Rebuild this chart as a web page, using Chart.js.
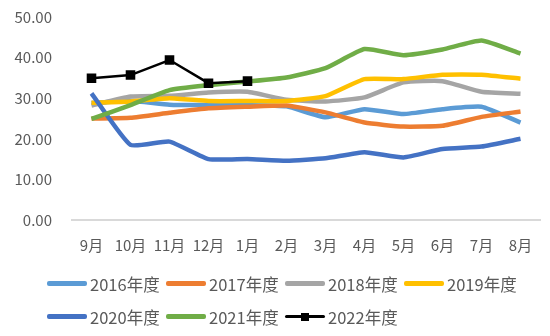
<!DOCTYPE html>
<html>
<head>
<meta charset="utf-8">
<script src="https://cdn.jsdelivr.net/npm/chart.js@4/dist/chart.umd.min.js"></script>
<style>
  html, body { margin: 0; padding: 0; background: #fff; }
  #wrap { position: relative; width: 550px; height: 336px; }
  #legend {
    position: absolute; left: 47px; top: 267px; width: 490px;
    display: flex; flex-wrap: wrap;
    font-family: "Noto Sans CJK SC", "Noto Sans", sans-serif; font-size: 16.5px; color: #595959;
  }
  .lg-item { width: 119px; height: 33px; display: flex; align-items: center; white-space: nowrap; }
  .lg-swatch { position: relative; width: 40px; height: 10px; margin-right: 3px; flex: none; }
  .lg-swatch .ln { position: absolute; left: 0; right: 0; top: 50%; border-radius: 2px; }
  .lg-swatch .mk { position: absolute; left: 16px; top: 1px; width: 8px; height: 8px; }
</style>
</head>
<body>
<div id="wrap">
  <canvas id="c" width="550" height="336"></canvas>
  <div id="legend"></div>
</div>
<script>
/* monthly series by marketing year */
const months = ['9月', '10月', '11月', '12月', '1月', '2月', '3月', '4月', '5月', '6月', '7月', '8月'];

const s2016 = [28.8, 29.4, 28.4, 28.3, 28.3, 28.0, 25.3, 27.3, 26.1, 27.3, 27.9, 24.0];
const s2017 = [25.0, 25.2, 26.4, 27.5, 27.9, 28.2, 26.5, 24.0, 23.0, 23.2, 25.4, 26.7];
const s2018 = [28.2, 30.4, 30.6, 31.4, 31.6, 29.6, 29.2, 30.2, 33.9, 34.2, 31.6, 31.1];
const s2019 = [28.9, 29.2, 30.0, 29.3, 29.3, 29.3, 30.5, 34.7, 34.7, 35.8, 35.8, 34.8];
const s2020 = [31.2, 18.5, 19.3, 15.0, 15.0, 14.6, 15.2, 16.7, 15.4, 17.5, 18.1, 20.0];
const s2021 = [24.9, 28.3, 32.0, 33.2, 34.1, 35.1, 37.4, 42.1, 40.6, 42.0, 44.2, 41.0];
const s2022 = [34.9, 35.7, 39.4, 33.7, 34.2, null, null, null, null, null, null, null];

const yMin = 0, yMax = 50, yStep = 10;

const series = [
  { label: '2016年度', data: s2016, color: '#5B9BD5' },
  { label: '2017年度', data: s2017, color: '#ED7D31' },
  { label: '2018年度', data: s2018, color: '#A5A5A5' },
  { label: '2019年度', data: s2019, color: '#FFC000' },
  { label: '2020年度', data: s2020, color: '#4472C4' },
  { label: '2021年度', data: s2021, color: '#70AD47' },
  { label: '2022年度', data: s2022, color: '#000000', marker: true },
];

const FONT = '"Noto Sans CJK SC", "Noto Sans", sans-serif';
const TXT = '#595959';

const datasets = series.map((s, i) => ({
  label: s.label,
  data: s.data,
  borderColor: s.color,
  backgroundColor: s.color,
  borderWidth: s.marker ? 2.5 : 4.5,
  tension: s.marker ? 0 : 0.15,
  pointStyle: 'rect',
  pointRadius: s.marker ? 5 : 0,
  pointHoverRadius: s.marker ? 5 : 0,
  spanGaps: false,
  fill: false,
  order: series.length - 1 - i, // later series drawn on top, like the source
}));

const chart = new Chart(document.getElementById('c'), {
  type: 'line',
  data: { labels: months, datasets },
  options: {
    responsive: false,
    animation: false,
    layout: { padding: { left: 8, right: 10, top: 17, bottom: 76 } },
    plugins: { legend: { display: false }, tooltip: { enabled: false } },
    scales: {
      x: {
        offset: true,
        grid: { display: false, drawTicks: false },
        border: { display: true, color: '#D9D9D9', width: 2 },
        ticks: { color: TXT, font: { family: FONT, size: 15 }, padding: 16, maxRotation: 0, autoSkip: false },
        afterFit: (s) => { s.height = 40; },
      },
      y: {
        min: yMin,
        max: yMax,
        grid: { display: false, drawTicks: false },
        border: { display: false },
        ticks: {
          stepSize: yStep,
          color: TXT,
          font: { family: FONT, size: 15 },
          padding: 20,
          callback: (v) => Number(v).toFixed(2),
        },
        // tick padding also pads top/bottom; keep only half a label there
        afterFit: (s) => { s.width = 64; s.paddingTop = 10; s.paddingBottom = 10; },
      },
    },
  },
});

// legend laid out like the source: fixed-width cells, left aligned rows
const legendEl = document.getElementById('legend');
series.forEach((s) => {
  const item = document.createElement('div');
  item.className = 'lg-item';
  const sw = document.createElement('span');
  sw.className = 'lg-swatch';
  const ln = document.createElement('span');
  ln.className = 'ln';
  const w = s.marker ? 2.5 : 4.5;
  ln.style.height = w + 'px';
  ln.style.marginTop = (-w / 2) + 'px';
  ln.style.background = s.color;
  sw.appendChild(ln);
  if (s.marker) {
    const mk = document.createElement('span');
    mk.className = 'mk';
    mk.style.background = s.color;
    sw.appendChild(mk);
  }
  const tx = document.createElement('span');
  tx.textContent = s.label;
  item.appendChild(sw);
  item.appendChild(tx);
  legendEl.appendChild(item);
});
</script>
</body>
</html>
